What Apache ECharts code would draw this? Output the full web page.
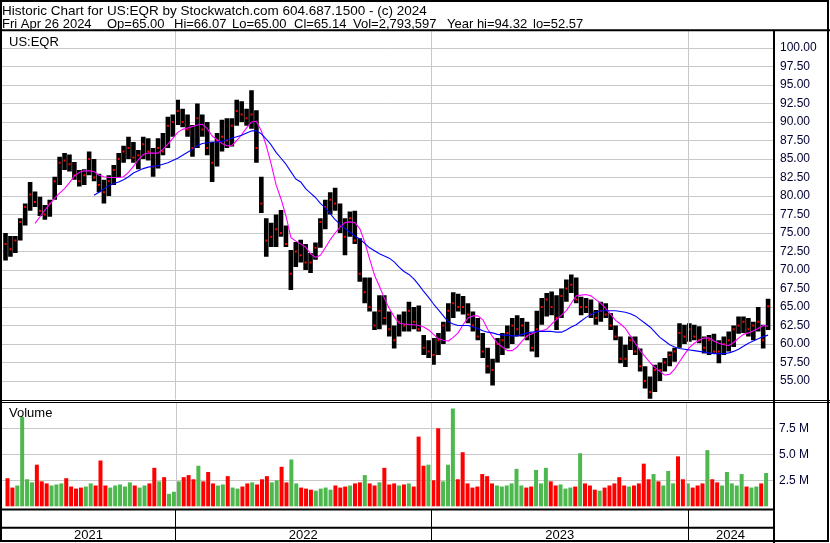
<!DOCTYPE html>
<html><head><meta charset="utf-8">
<script src="https://cdn.jsdelivr.net/npm/echarts@6/dist/echarts.min.js"></script>
<style>html,body{margin:0;padding:0;background:#fff}#c{width:830px;height:543px}</style>
</head><body><div id="c"></div>
<script>
// ---------- text ----------
const titleLine = 'Historic Chart for US:EQR by Stockwatch.com 604.687.1500 - (c) 2024';
const quoteItems = ['Fri Apr 26 2024', 'Op=65.00', 'Hi=66.07', 'Lo=65.00', 'Cl=65.14', 'Vol=2,793,597', 'Year hi=94.32', 'lo=52.57'];
const symbolLabel = 'US:EQR';
const volumeLabel = 'Volume';
const yearLabels = ['2021', '2022', '2023', '2024'];
const yearBounds = ['2021-04-30', '2022-01-01', '2023-01-01', '2024-01-01', '2024-05-01'];
// ---------- weekly data (week of 2021-05-05 onward, one value per week) ----------
const firstWeek = '2021-05-05';
const high = [75.0,74.6,74.6,77.0,79.0,81.9,80.6,79.9,78.8,79.5,82.6,85.3,85.8,85.6,84.6,83.5,83.6,86.0,85.0,83.0,
82.2,82.8,84.2,85.8,86.8,88.0,87.3,86.2,88.0,87.8,86.5,87.8,88.5,90.7,91.0,93.0,91.8,91.0,89.6,92.5,
91.0,90.0,87.3,88.5,90.3,90.5,90.5,93.0,92.8,91.8,94.3,91.6,82.6,77.0,76.4,77.5,78.1,76.0,72.7,73.8,
74.1,73.5,72.3,73.7,77.0,79.5,80.5,81.1,79.0,77.0,77.9,78.0,74.3,69.0,69.0,64.4,66.6,66.6,64.4,62.5,
64.0,64.4,65.7,65.0,65.2,61.2,60.5,60.8,61.5,63.0,65.5,67.0,66.8,66.5,65.5,64.4,63.5,61.5,59.5,58.0,
60.8,61.5,62.5,63.5,63.9,63.5,63.0,61.5,64.5,66.2,66.9,67.1,66.6,67.5,68.7,69.4,69.0,66.4,66.2,66.0,
64.6,65.7,65.5,64.2,62.5,61.0,59.9,61.0,61.0,59.4,57.0,55.6,57.2,57.5,58.1,59.0,59.5,62.8,62.6,62.8,
62.6,62.4,61.0,61.2,61.4,60.5,61.0,61.7,62.5,63.7,63.7,63.5,63.0,65.0,62.6,66.1];
const low = [71.3,71.8,72.3,74.0,76.0,78.0,78.5,77.3,76.8,77.2,79.5,81.5,83.5,83.3,82.2,81.3,81.5,82.8,82.0,80.5,
79.0,80.0,81.5,82.5,84.5,85.0,84.5,83.6,85.0,84.8,82.6,83.7,85.5,86.5,88.0,89.6,89.3,88.0,85.3,86.5,
88.0,85.5,81.9,84.0,86.0,86.5,86.7,89.5,90.0,89.5,89.1,84.5,77.7,71.8,73.1,73.1,74.5,73.1,67.3,70.4,
71.0,70.0,69.6,71.4,73.0,75.5,77.5,78.0,75.0,72.0,74.5,73.5,68.4,65.5,64.4,61.9,62.0,62.6,61.0,59.4,
61.0,61.7,61.7,62.0,61.7,58.5,58.1,57.2,58.5,60.0,61.7,63.5,64.4,64.0,62.8,61.7,60.5,58.1,56.0,54.4,
57.5,58.5,59.4,60.0,61.0,61.0,60.5,59.0,58.2,62.6,63.7,63.9,61.9,63.5,65.7,66.9,65.5,63.9,64.2,63.5,
62.6,63.0,63.5,61.9,60.5,57.4,56.9,59.2,58.5,56.3,54.0,52.6,53.5,55.0,56.3,57.0,57.6,59.5,60.0,60.3,
60.5,60.1,58.7,58.5,58.7,57.4,58.5,59.0,59.6,61.4,61.5,61.0,60.5,61.7,59.4,61.9];
const close = [73.5,72.8,74.0,76.5,78.5,80.2,79.2,78.0,77.5,79.0,82.0,84.5,84.8,84.3,82.8,82.0,82.8,85.0,82.5,81.5,
80.5,82.0,83.5,85.0,86.0,86.5,85.2,85.5,87.0,86.0,84.0,86.5,86.0,89.5,90.0,91.5,90.0,89.0,86.5,90.5,
89.0,86.5,84.5,87.5,88.0,87.5,89.5,91.5,91.0,90.5,91.0,86.5,79.0,74.0,74.5,75.5,75.0,73.5,69.5,72.5,
72.0,71.0,71.0,73.0,76.5,78.5,79.5,79.0,76.0,74.5,77.0,74.0,69.5,67.0,65.0,62.5,64.5,63.5,62.0,60.5,
63.0,62.5,64.5,63.0,62.0,59.5,59.0,58.5,60.5,62.5,64.5,65.5,65.0,65.0,64.0,62.5,61.0,59.0,57.0,56.5,
60.0,60.5,61.5,62.5,62.0,62.5,61.0,59.5,62.0,65.0,66.0,65.0,63.5,66.5,67.5,68.0,66.0,65.0,65.0,64.0,
63.5,64.5,64.0,62.5,61.0,58.0,58.0,60.5,59.0,57.0,55.0,53.5,56.5,56.5,57.5,58.5,59.0,61.5,61.0,62.0,
61.0,60.5,59.5,60.5,59.0,59.0,60.0,60.5,62.0,62.5,63.0,62.0,62.5,63.0,60.5,65.1];
const maFast = [null,null,null,null,null,null,76.3,77.2,78.1,78.9,79.7,80.4,81.0,81.8,82.7,83.2,83.4,83.4,83.3,82.8,
82.6,82.5,82.5,82.5,82.6,83.2,84.0,84.9,85.6,85.8,85.8,85.8,86.3,87.0,87.8,88.6,89.0,89.2,89.4,89.6,
89.7,89.1,88.1,87.6,87.1,86.8,86.8,87.5,88.3,89.2,90.0,90.1,88.8,86.8,84.3,81.5,79.6,77.3,74.4,73.9,
73.5,73.1,72.2,71.7,72.0,73.0,74.1,75.0,75.8,76.4,76.5,76.4,75.6,73.8,71.5,69.3,67.8,66.2,64.8,63.7,
62.8,62.7,62.6,62.6,62.5,62.3,61.9,61.3,60.7,60.5,60.4,60.9,61.5,62.6,63.5,63.8,63.8,63.3,62.0,61.0,
60.1,59.6,59.1,59.1,59.6,60.4,61.1,61.4,61.7,61.8,62.0,62.7,63.3,63.9,64.5,65.5,66.5,66.6,66.7,66.5,
66.0,65.5,64.8,64.0,63.2,62.7,62.1,61.1,60.1,59.1,58.3,57.5,56.8,56.3,55.8,55.9,56.6,57.6,58.6,59.5,
60.1,60.5,60.8,60.8,60.4,60.1,59.9,59.8,60.2,60.8,61.3,61.5,61.8,62.1,62.5,62.4];
const maSlow = [null,null,null,null,null,null,null,null,null,null,null,null,null,null,null,null,null,null,80.1,80.5,
81.0,81.4,81.7,81.9,82.2,82.6,83.1,83.4,83.7,83.9,84.0,84.1,84.3,84.5,84.8,85.1,85.5,85.9,86.3,86.8,
87.1,87.2,87.3,87.3,87.4,87.6,87.8,88.0,88.2,88.5,88.8,88.8,88.4,87.7,86.9,85.9,85.1,84.3,83.3,82.3,
81.9,81.0,80.4,79.8,79.0,78.4,77.6,76.8,76.2,75.6,75.1,74.6,74.2,73.6,73.0,72.6,72.2,71.9,71.6,71.1,
70.4,69.8,69.4,68.8,68.0,67.1,66.3,65.4,64.6,63.8,63.0,62.7,62.5,62.5,62.5,62.3,62.1,61.8,61.6,61.5,
61.3,61.2,61.2,61.1,61.1,61.3,61.5,61.6,61.7,61.7,61.7,61.7,61.6,61.6,61.9,62.3,62.6,63.1,63.6,64.0,
64.3,64.5,64.5,64.5,64.5,64.4,64.3,64.1,63.8,63.3,62.8,62.3,61.6,60.9,60.4,59.9,59.6,59.4,59.3,59.2,
59.1,59.0,58.9,58.8,58.7,58.7,58.7,58.8,59.0,59.3,59.7,60.1,60.4,60.7,61.0,61.2];
const volumeM = [2.7,1.8,2.0,8.6,2.6,2.3,4.0,2.4,2.2,2.0,2.1,2.2,2.7,1.9,1.7,1.8,1.9,2.2,2.0,4.4,
2.0,1.8,2.0,2.1,1.9,2.3,2.0,1.8,2.0,2.2,3.7,2.4,2.8,1.2,1.4,2.4,2.8,3.0,2.6,3.9,
2.4,3.3,2.2,2.0,2.1,2.9,1.8,1.7,1.9,2.2,2.3,2.1,2.6,2.9,2.3,2.5,3.8,2.3,4.5,2.2,
1.8,1.7,1.6,1.5,1.7,1.8,1.6,2.0,1.8,1.9,2.0,2.2,2.3,3.0,2.2,2.0,2.3,3.7,2.1,2.2,
2.0,2.1,2.2,1.9,6.7,3.9,4.0,2.5,7.5,2.4,4.0,9.4,2.6,5.2,2.2,1.8,1.9,3.1,2.9,2.2,
2.0,1.9,2.0,2.2,3.6,2.0,1.8,1.9,3.5,2.2,3.7,2.4,2.0,2.1,1.7,1.8,1.9,5.1,2.2,2.0,
1.6,1.5,1.8,2.0,2.2,2.8,2.0,1.9,2.0,2.2,4.1,2.6,3.1,2.4,2.0,3.4,2.2,4.8,2.6,2.2,
1.8,2.0,2.2,5.4,2.6,2.3,2.0,3.3,2.2,2.0,3.1,1.9,1.8,1.9,2.2,3.2];
const volumeSide = 'RRGGGGRRRG'+'GGRRRRGGRR'+'RGGGGGRGGR'+'RGRGGGRRRG'+'RRRGGRGGRR'+'GRRRGGRRGG'+'RRRGGGGRRR'+'GRRGRRGRRR'+
  'GRGRRRGRRG'+'GGRRRRRRRR'+'GGGGGGRRGG'+'GRRGGGRGRR'+'RGRRRRRGRR'+'RRGRGGGRRG'+'RRRGRRGGGG'+'GRGGRG';

// ---------- build ----------
const FONT = '"Liberation Sans", Arial, sans-serif';
const toTime = s => { const p = s.split('-').map(Number); return new Date(p[0], p[1] - 1, p[2]).getTime(); };
const w0 = firstWeek.split('-').map(Number);
const dates = high.map((_, i) => new Date(w0[0], w0[1] - 1, w0[2] + 7 * i).getTime());
const bounds = yearBounds.map(toTime);
const xMin = bounds[0], xMax = bounds[bounds.length - 1];
const RED = '#ff0000', GREEN = '#4db84d', GRID = '#c8c8c8';

const priceData = dates.map((d, i) => [d, high[i], low[i], close[i]]);
const volData = dates.map((d, i) => ({ value: [d, volumeM[i]], itemStyle: { color: volumeSide[i] === 'G' ? GREEN : RED } }));
const yearLines = bounds.slice(1, -1).map(t => ({ xAxis: t }));
const yearAreas = yearLabels.map((n, k) => [{ name: n, xAxis: bounds[k] }, { xAxis: bounds[k + 1] }]);

const xBase = { type: 'time', min: xMin, max: xMax, axisLine: { show: false }, axisTick: { show: false }, axisLabel: { show: false }, splitLine: { show: false } };
const gridMark = { silent: true, symbol: ['none', 'none'], label: { show: false }, lineStyle: { color: GRID, width: 1, type: 'solid' }, emphasis: { disabled: true }, data: yearLines, animation: false };

const L = (x1, y1, x2, y2, w) => ({ type: 'line', z: 100, silent: true, shape: { x1, y1, x2, y2 }, style: { stroke: '#000', lineWidth: w } });
const T = (x, y, text, size) => ({ type: 'text', z: 100, silent: true, x, y, style: { text, fill: '#000', font: (size || 13) + 'px ' + FONT, textVerticalAlign: 'top' } });
const quoteX = [2, 107, 174, 232, 294, 353, 447, 533];

const chart = echarts.init(document.getElementById('c'), null, { renderer: 'canvas' });
chart.setOption({
  animation: false,
  backgroundColor: '#fff',
  grid: [
    { left: 2, width: 771, top: 29.5, height: 370 },
    { left: 2, width: 771, top: 402.3, height: 104 },
    { left: 2, width: 771, top: 510, height: 32 }
  ],
  xAxis: [Object.assign({ gridIndex: 0 }, xBase), Object.assign({ gridIndex: 1 }, xBase), Object.assign({ gridIndex: 2 }, xBase)],
  yAxis: [
    { gridIndex: 0, type: 'value', position: 'right', min: 52.5, max: 102.5, interval: 2.5,
      axisLine: { show: false }, axisTick: { show: false },
      axisLabel: { margin: 7, color: '#000033', fontFamily: FONT, fontSize: 12, showMinLabel: false, showMaxLabel: false,
        formatter: v => (v < 55 || v > 100) ? '' : v.toFixed(2) },
      splitLine: { show: true, showMinLine: false, showMaxLine: false, lineStyle: { color: GRID, width: 1 } } },
    { gridIndex: 1, type: 'value', position: 'right', min: 0, max: 10, interval: 2.5,
      axisLine: { show: false }, axisTick: { show: false },
      axisLabel: { margin: 6, color: '#000033', fontFamily: FONT, fontSize: 12, showMinLabel: false, showMaxLabel: false,
        formatter: v => (v <= 0 || v >= 10) ? '' : v.toFixed(1) + ' M' },
      splitLine: { show: true, showMinLine: false, showMaxLine: false, lineStyle: { color: GRID, width: 1 } } },
    { gridIndex: 2, type: 'value', min: 0, max: 1, show: false }
  ],
  series: [
    { type: 'custom', name: 'price', xAxisIndex: 0, yAxisIndex: 0, z: 3, clip: true,
      encode: { x: 0, y: [1, 2] }, data: priceData,
      renderItem: (params, api) => {
        const t = api.value(0);
        const hi = api.coord([t, api.value(1)]);
        const lo = api.coord([t, api.value(2)]);
        const cl = api.coord([t, api.value(3)]);
        return { type: 'group', children: [
          { type: 'rect', shape: { x: hi[0] - 2.3, y: hi[1], width: 4.6, height: Math.max(1, lo[1] - hi[1]) }, style: { fill: '#000' } },
          { type: 'rect', shape: { x: cl[0] - 1, y: cl[1] - 1, width: 2, height: 2 }, style: { fill: RED } }
        ] };
      },
      markLine: gridMark },
    { type: 'line', name: 'maFast', xAxisIndex: 0, yAxisIndex: 0, z: 5, showSymbol: false, symbol: 'none',
      data: dates.map((d, i) => [d, maFast[i]]), lineStyle: { color: '#ff00ff', width: 1.1 }, itemStyle: { color: '#ff00ff' } },
    { type: 'line', name: 'maSlow', xAxisIndex: 0, yAxisIndex: 0, z: 5, showSymbol: false, symbol: 'none',
      data: dates.map((d, i) => [d, maSlow[i]]), lineStyle: { color: '#0000ff', width: 1.1 }, itemStyle: { color: '#0000ff' } },
    { type: 'bar', name: 'volume', xAxisIndex: 1, yAxisIndex: 1, barWidth: 4, z: 3, data: volData, markLine: gridMark },
    { type: 'line', name: 'years', xAxisIndex: 2, yAxisIndex: 2, showSymbol: false, symbol: 'none', data: [[xMin, -1]],
      lineStyle: { opacity: 0 },
      markLine: Object.assign({}, gridMark, { lineStyle: { color: '#000', width: 1, type: 'solid' } }),
      markArea: { silent: true, itemStyle: { color: 'rgba(0,0,0,0)' },
        label: { show: true, position: ['50%', '78%'], align: 'center', verticalAlign: 'middle', color: '#000', fontFamily: FONT, fontSize: 13, formatter: p => p.name },
        data: yearAreas } }
  ],
  graphic: [
    { type: 'rect', z: 100, silent: true, shape: { x: 1, y: 1, width: 827, height: 540 }, style: { fill: 'none', stroke: '#000', lineWidth: 2 } },
    L(0, 30.2, 830, 30.2, 2),
    L(774, 30, 774, 543, 2),
    L(0, 400.5, 830, 400.5, 1),
    L(0, 402.5, 830, 402.5, 1),
    L(0, 509.5, 775, 509.5, 2),
    L(0, 527.8, 775, 527.8, 2),
    T(2, 4, titleLine, 13.5),
    ...quoteItems.map((s, k) => T(quoteX[k], 18, s, 13)),
    T(9, 36, symbolLabel),
    T(9, 407, volumeLabel)
  ]
});
</script></body></html>
